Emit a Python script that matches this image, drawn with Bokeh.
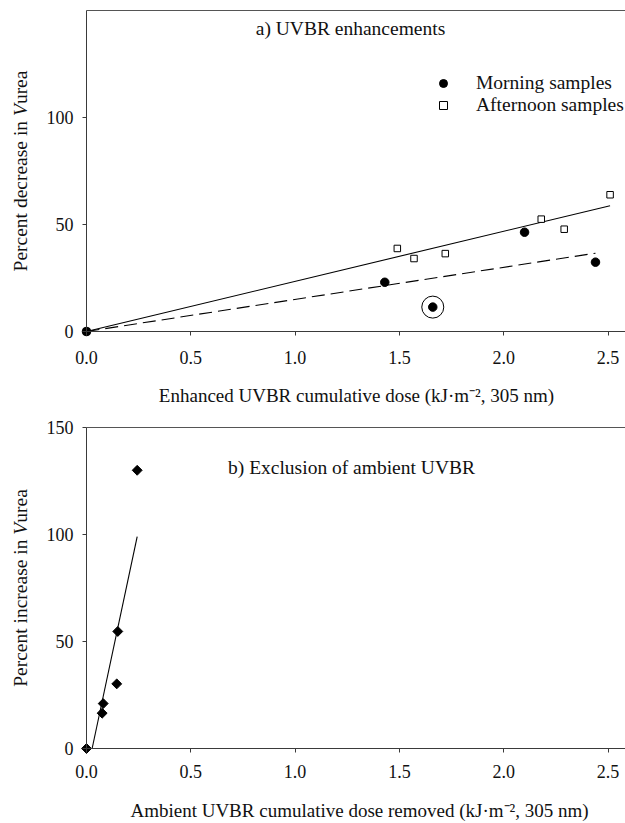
import math
from bokeh.plotting import figure
from bokeh.layouts import column
from bokeh.models import Range1d, FixedTicker, Label, Legend, LegendItem
from bokeh.embed import file_html
from bokeh.resources import INLINE

# ---------------- data ----------------
morning_x = [0.0, 1.43, 1.66, 2.10, 2.44]
morning_y = [0.0, 23.0, 11.4, 46.4, 32.4]
afternoon_x = [0.0, 1.49, 1.57, 1.72, 2.18, 2.29, 2.51]
afternoon_y = [0.0, 38.8, 34.1, 36.4, 52.5, 47.8, 63.9]
outlier_x = [1.66]
outlier_y = [11.4]
fit_afternoon_x = [0.0, 2.51]
fit_afternoon_y = [0.0, 58.8]
fit_morning_x = [0.0, 2.44]
fit_morning_y = [0.0, 36.6]
excl_x = [0.0, 0.075, 0.08, 0.15, 0.145, 0.243]
excl_y = [0.0, 16.5, 21.0, 54.7, 30.2, 130.0]
fit_excl_x = [0.027, 0.243]
fit_excl_y = [0.0, 99.0]
x_ticks = [0.0, 0.5, 1.0, 1.5, 2.0, 2.5]
x_tick_labels = ["0.0", "0.5", "1.0", "1.5", "2.0", "2.5"]
ya_ticks = [0, 50, 100]
yb_ticks = [0, 50, 100, 150]
y_top = 150

# ---------------- geometry ----------------
W = 625
PXX = 208.6      # px per x unit
PXY = 2.14       # px per y unit
X0 = 86          # page x of x=0
x_start = -X0 / PXX
x_end = (W - X0) / PXX
FONT = "Liberation Serif"
FS = 19.5
INK = "#111111"
AXC = "#3a3a3a"


def xd(px):
    return (px - X0) / PXX


def make_fig(height, zero_py, yticks, xstand):
    p = figure(width=W, height=height, output_backend="svg", toolbar_location=None,
               x_range=Range1d(x_start, x_end),
               y_range=Range1d(-(height - zero_py) / PXY, zero_py / PXY),
               min_border_left=0, min_border_right=0,
               min_border_top=0, min_border_bottom=0)
    p.outline_line_color = None
    p.xgrid.visible = False
    p.ygrid.visible = False
    for ax in (p.xaxis[0], p.yaxis[0]):
        ax.fixed_location = 0
        ax.axis_line_color = AXC
        ax.major_tick_line_color = AXC
        ax.major_tick_out = 4
        ax.major_tick_in = 0
        ax.minor_tick_line_color = None
        ax.major_label_text_font = FONT
        ax.major_label_text_font_size = "18px"
        ax.major_label_text_color = INK
    p.xaxis[0].ticker = FixedTicker(ticks=x_ticks)
    p.xaxis[0].major_label_overrides = {t: l for t, l in zip(x_ticks, x_tick_labels)}
    p.xaxis[0].bounds = (0, x_end)
    p.xaxis[0].major_label_standoff = xstand
    p.yaxis[0].ticker = FixedTicker(ticks=yticks)
    p.yaxis[0].bounds = (0, y_top)
    p.yaxis[0].major_label_standoff = 9
    # top frame line
    p.line([0, x_end], [y_top, y_top], line_color="#555555", line_width=1)
    return p


def ytitle(p, parts, cx_px, center_py, zero_py):
    total = sum(w for _, w, _ in parts) * FS
    py = center_py + total / 2.0
    for txt, w, style in parts:
        p.add_layout(Label(x=xd(cx_px), y=(zero_py - py) / PXY, text=txt,
                           angle=math.pi / 2, text_align="left", text_baseline="middle",
                           text_font=FONT, text_font_size=f"{FS}px", text_font_style=style,
                           text_color=INK))
        py -= w * FS


def label(p, x_px, py, zero_py, txt, fs=FS):
    p.add_layout(Label(x=xd(x_px), y=(zero_py - py) / PXY, text=txt,
                       text_align="center", text_baseline="middle",
                       text_font=FONT, text_font_size=f"{fs}px", text_color=INK))


# ---------------- panel a ----------------
HA = 418
ZA = 331
pa = make_fig(HA, ZA, ya_ticks, 15)
pa.line(fit_afternoon_x, fit_afternoon_y, line_color="black", line_width=1.1)
pa.line(fit_morning_x, fit_morning_y, line_color="black", line_width=1.1, line_dash="13 6")
ra = pa.scatter(afternoon_x, afternoon_y, marker="square", size=6.5,
                fill_color="white", line_color="black", line_width=1)
rm = pa.scatter(morning_x, morning_y, marker="circle", size=8.5,
                fill_color="black", line_color="black")
pa.scatter(outlier_x, outlier_y, marker="circle", size=22,
           fill_color=None, line_color="black", line_width=1)

legend = Legend(items=[LegendItem(label="Morning samples", renderers=[rm]),
                       LegendItem(label="Afternoon samples", renderers=[ra])],
                location=(433, HA - 116), margin=0, padding=0, spacing=0,
                glyph_width=20, glyph_height=20, label_height=20, label_standoff=23,
                label_text_font=FONT, label_text_font_size=f"{FS}px",
                label_text_color=INK, border_line_color=None, background_fill_alpha=0)
pa.add_layout(legend)

label(pa, 350, 28, ZA, "a) UVBR enhancements")
label(pa, 356, 395, ZA, "Enhanced UVBR cumulative dose (kJ\u00b7m\u207b\u00b2, 305 nm)", 19)
ytitle(pa, [("Percent decrease in ", 7.969, "normal"), ("V", 0.611, "italic"),
            ("urea", 1.721, "normal")], 20, (10 + 331) / 2.0, ZA)

# ---------------- panel b ----------------
HB = 405
ZB = 748 - 418
pb = make_fig(HB, ZB, yb_ticks, 12)
pb.line(fit_excl_x, fit_excl_y, line_color="black", line_width=1.1)
pb.scatter(excl_x, excl_y, marker="square", angle=math.pi / 4, size=7,
           fill_color="black", line_color="black")
label(pb, 351, 467 - 418, ZB, "b) Exclusion of ambient UVBR")
label(pb, 359, 810 - 418, ZB, "Ambient UVBR cumulative dose removed (kJ\u00b7m\u207b\u00b2, 305 nm)", 19)
ytitle(pb, [("Percent increase in ", 7.803, "normal"), ("V", 0.611, "italic"),
            ("urea", 1.721, "normal")], 20, (427 + 748) / 2.0 - 418, ZB)

layout = column(pa, pb, spacing=0)
open("out.html", "w").write(file_html(layout, INLINE))
